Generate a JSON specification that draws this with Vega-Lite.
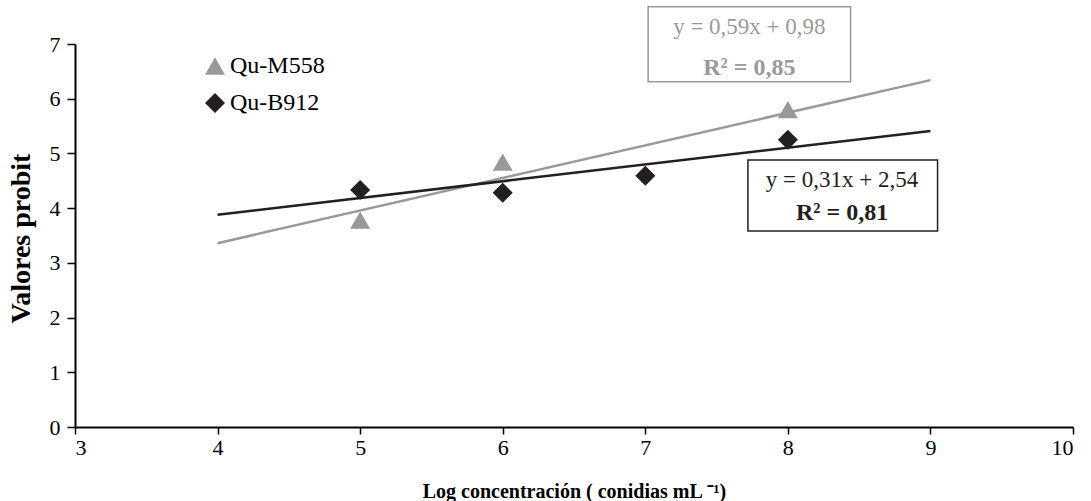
{
  "$schema": "https://vega.github.io/schema/vega-lite/v6.json",
  "width": 998,
  "height": 383,
  "autosize": "none",
  "padding": {"left": 75, "top": 44, "right": 18, "bottom": 74},
  "background": "white",
  "config": {
    "view": {"stroke": null},
    "font": "Liberation Serif"
  },
  "datasets": {
    "points": [
      {"serie": "Qu-M558", "log": 5, "probit": 3.78},
      {"serie": "Qu-M558", "log": 6, "probit": 4.84},
      {"serie": "Qu-M558", "log": 8, "probit": 5.8},
      {"serie": "Qu-B912", "log": 5, "probit": 4.33},
      {"serie": "Qu-B912", "log": 6, "probit": 4.28},
      {"serie": "Qu-B912", "log": 7, "probit": 4.59},
      {"serie": "Qu-B912", "log": 8, "probit": 5.25}
    ],
    "trend": [
      {"serie": "Qu-M558", "log": 4, "probit": 3.36},
      {"serie": "Qu-M558", "log": 9, "probit": 6.34},
      {"serie": "Qu-B912", "log": 4, "probit": 3.88},
      {"serie": "Qu-B912", "log": 9, "probit": 5.41}
    ],
    "boxes": [
      {"serie": "Qu-M558", "x1": 7.02, "x2": 8.44, "y1": 7.68, "y2": 6.31},
      {"serie": "Qu-B912", "x1": 7.72, "x2": 9.05, "y1": 4.88, "y2": 3.58}
    ],
    "eq": [
      {"serie": "Qu-M558", "x": 7.73, "y": 7.31, "label": "y = 0,59x + 0,98", "bold": "normal"},
      {"serie": "Qu-M558", "x": 7.73, "y": 6.57, "label": "R² = 0,85", "bold": "bold"},
      {"serie": "Qu-B912", "x": 8.38, "y": 4.52, "label": "y = 0,31x + 2,54", "bold": "normal"},
      {"serie": "Qu-B912", "x": 8.38, "y": 3.91, "label": "R² = 0,81", "bold": "bold"}
    ]
  },
  "layer": [
    {
      "data": {"name": "boxes"},
      "mark": {"type": "rect", "filled": false, "strokeWidth": 1.5},
      "encoding": {
        "x": {"field": "x1", "type": "quantitative", "scale": {"domain": [3, 10], "nice": false}},
        "x2": {"field": "x2"},
        "y": {"field": "y1", "type": "quantitative", "scale": {"domain": [0, 7], "nice": false}},
        "y2": {"field": "y2"},
        "color": {"field": "serie", "type": "nominal"}
      }
    },
    {
      "data": {"name": "trend"},
      "mark": {"type": "line", "strokeWidth": 2.5},
      "encoding": {
        "x": {"field": "log", "type": "quantitative"},
        "y": {"field": "probit", "type": "quantitative"},
        "color": {"field": "serie", "type": "nominal"}
      }
    },
    {
      "data": {"name": "points"},
      "mark": {"type": "point", "filled": true, "size": 400, "opacity": 1},
      "encoding": {
        "x": {
          "field": "log", "type": "quantitative",
          "axis": {
            "values": [3, 4, 5, 6, 7, 8, 9, 10],
            "format": "d",
            "grid": false,
            "domainColor": "black", "domainWidth": 2,
            "tickColor": "black", "tickWidth": 1.5, "tickSize": 7,
            "labelFont": "Liberation Serif", "labelFontSize": 22, "labelColor": "black", "labelPadding": 3,
            "title": "Log concentración ( conidias mL ⁻¹)",
            "titleFont": "Liberation Serif", "titleFontSize": 20, "titleFontWeight": "bold", "titleColor": "black",
            "titleY": 64, "titleBaseline": "middle"
          }
        },
        "y": {
          "field": "probit", "type": "quantitative",
          "axis": {
            "values": [0, 1, 2, 3, 4, 5, 6, 7],
            "format": "d",
            "grid": false,
            "domainColor": "black", "domainWidth": 2,
            "tickColor": "black", "tickWidth": 1.5, "tickSize": 8,
            "labelFont": "Liberation Serif", "labelFontSize": 22, "labelColor": "black", "labelPadding": 7,
            "title": "Valores probit",
            "titleFont": "Liberation Serif", "titleFontSize": 28, "titleFontWeight": "bold", "titleColor": "black",
            "titleX": -54, "titleY": 194, "titleBaseline": "middle"
          }
        },
        "color": {
          "field": "serie", "type": "nominal",
          "scale": {"domain": ["Qu-M558", "Qu-B912"], "range": ["#999999", "#231f20"]},
          "legend": {
            "orient": "none", "legendX": 128, "legendY": 10,
            "title": null,
            "labelFont": "Liberation Serif", "labelFontSize": 24,
            "symbolSize": 400, "rowPadding": 13, "labelOffset": 3,
            "symbolStrokeWidth": 0, "symbolType": "circle",
            "encode": {
              "symbols": {"update": {
                "shape": {"signal": "datum.value === 'Qu-M558' ? 'triangle-up' : 'diamond'"},
                "fill": {"signal": "datum.value === 'Qu-M558' ? '#999999' : '#231f20'"},
                "strokeWidth": {"value": 0},
                "opacity": {"value": 1}
              }},
              "labels": {"update": {"fill": {"signal": "datum.value === 'Qu-M558' ? '#999999' : '#000000'"}}}
            }
          }
        },
        "shape": {
          "field": "serie", "type": "nominal",
          "scale": {"domain": ["Qu-M558", "Qu-B912"], "range": ["triangle-up", "diamond"]},
          "legend": null
        }
      }
    },
    {
      "data": {"name": "eq"},
      "transform": [{"filter": "datum.bold === 'normal'"}],
      "mark": {"type": "text", "fontSize": 23, "font": "Liberation Serif", "align": "center", "baseline": "middle"},
      "encoding": {
        "x": {"field": "x", "type": "quantitative"},
        "y": {"field": "y", "type": "quantitative"},
        "text": {"field": "label"},
        "color": {"field": "serie", "type": "nominal"}
      }
    },
    {
      "data": {"name": "eq"},
      "transform": [{"filter": "datum.bold === 'bold'"}],
      "mark": {"type": "text", "fontSize": 24, "fontWeight": "bold", "font": "Liberation Serif", "align": "center", "baseline": "middle"},
      "encoding": {
        "x": {"field": "x", "type": "quantitative"},
        "y": {"field": "y", "type": "quantitative"},
        "text": {"field": "label"},
        "color": {"field": "serie", "type": "nominal"}
      }
    }
  ]
}
